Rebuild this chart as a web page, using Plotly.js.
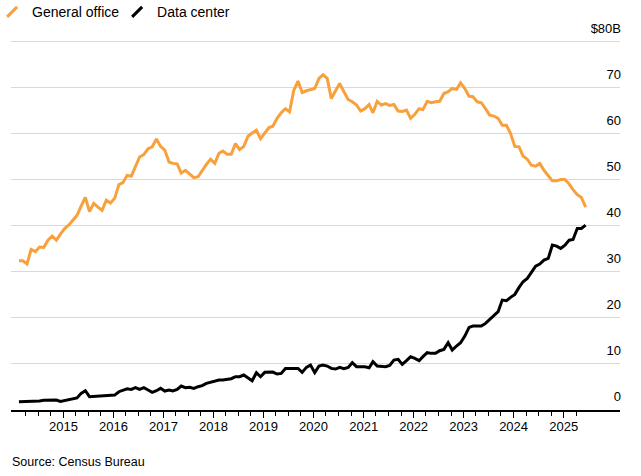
<!DOCTYPE html>
<html>
<head>
<meta charset="utf-8">
<script src="https://cdn.plot.ly/plotly-3.0.1.min.js"></script>
<style>
  html, body { margin: 0; padding: 0; background: #fff; }
  #chart { width: 641px; height: 476px; }
</style>
</head>
<body>
<div id="chart"></div>
<script>
// Monthly series, Feb 2014 – Jun 2025 ($B, seasonally adjusted annual rate)
var startYear = 2014, startMonth = 2;
var generalOffice = [
  32.3,32.3,31.6,34.8,34.3,35.3,35.2,36.8,37.7,36.8,38.1,39.3,40.1,41.0,42.2,44.2,46.1,43.0,44.8,44.0,
  43.3,45.5,44.9,45.9,48.9,49.3,50.9,50.7,52.7,54.9,55.4,56.7,57.1,58.8,57.2,56.4,53.8,53.5,53.4,51.4,
  52.0,51.3,50.4,50.6,52.0,53.3,54.4,53.5,55.7,
  56.2,55.5,55.5,57.8,56.5,57.2,59.4,60.1,60.7,58.9,60.0,61.3,61.6,63.3,64.5,65.4,64.7,69.4,71.4,68.9,
  69.3,69.6,69.8,72.0,72.8,72.0,67.6,69.3,70.9,69.1,67.4,66.9,66.2,64.9,65.4,66.3,64.5,67.0,66.2,66.5,
  66.1,66.3,64.9,64.8,65.1,63.3,64.2,
  65.4,65.2,67.0,66.7,66.9,67.0,68.7,69.1,69.8,69.6,71.0,69.8,68.1,68.0,66.9,66.7,65.4,64.0,63.8,63.3,
  61.8,61.8,60.0,57.2,57.1,55.1,54.4,53.1,52.9,53.5,52.0,50.9,49.7,49.7,50.0,50.0,49.0,47.8,46.7,46.1,
  44.0
];
var dataCenter = [
  1.66,1.66,1.80,1.80,1.73,1.80,1.95,1.95,1.95,2.02,1.73,1.88,2.02,2.17,2.46,3.47,4.05,2.75,2.82,2.82,
  2.82,3.03,3.10,3.10,3.83,4.20,4.48,4.34,4.70,4.34,4.70,4.20,3.69,4.05,4.56,3.98,4.20,3.98,4.34,5.07,
  4.70,4.78,4.56,4.92,5.14,5.65,5.86,6.22,6.37,
  6.37,6.59,6.66,7.09,7.09,7.46,6.88,6.22,7.97,7.09,8.04,8.11,8.11,7.67,7.82,8.90,8.90,8.90,8.90,8.04,
  9.12,9.63,7.97,9.41,9.63,9.41,8.90,8.76,9.12,8.83,9.12,10.14,9.27,9.27,9.27,9.05,10.36,9.41,9.27,9.27,
  9.56,10.72,10.87,9.78,10.58,11.45,11.09,
  10.58,11.45,12.32,12.17,12.17,12.75,13.04,14.49,12.89,13.77,14.49,15.93,17.82,18.11,18.11,18.11,18.69,19.56,20.28,21.23,
  23.76,23.62,24.35,25.00,26.52,27.75,28.47,29.92,31.15,31.59,32.46,32.82,35.72,35.50,35.00,35.72,36.80,36.95,39.34,39.34,
  40.07
];
var seriesNames = ['General office', 'Data center'];
var yearLabels = ['2015','2016','2017','2018','2019','2020','2021','2022','2023','2024','2025'];
var yTickVals = [0,10,20,30,40,50,60,70,80];
var yTickText = ['0','10','20','30','40','50','60','70','$80B'];
var sourceText = 'Source: Census Bureau';

function pad(n){ return (n < 10 ? '0' : '') + n; }
var months = [];
for (var i = 0; i < generalOffice.length; i++) {
  var m0 = startMonth - 1 + i;
  var y = startYear + Math.floor(m0 / 12);
  var m = (m0 % 12) + 1;
  months.push(y + '-' + pad(m) + '-10');
}
var yearTicks = yearLabels.map(function(y){ return y + '-01-01'; });
var quarterTicks = [];
for (var yy = 2014; yy <= 2025; yy++) {
  [4,7,10].forEach(function(q){
    var d = yy + '-' + pad(q) + '-01';
    if (d <= months[months.length-1]) quarterTicks.push(d);
  });
}

var orange = '#F8A13C';
var black = '#000000';

var traces = [
  { x: months, y: generalOffice, type: 'scatter', mode: 'lines', name: seriesNames[0],
    line: { color: orange, width: 3 }, showlegend: false, hoverinfo: 'skip' },
  { x: months, y: dataCenter, type: 'scatter', mode: 'lines', name: seriesNames[1],
    line: { color: black, width: 3 }, showlegend: false, hoverinfo: 'skip' },
  { x: [null], y: [null], type: 'scatter', mode: 'markers', name: seriesNames[0],
    marker: { symbol: 'line-ne', size: 10, color: orange, line: { color: orange, width: 3 } } },
  { x: [null], y: [null], type: 'scatter', mode: 'markers', name: seriesNames[1],
    marker: { symbol: 'line-ne', size: 10, color: black, line: { color: black, width: 3 } } }
];

// pixel scale: 4.6 px per $1B, zero line at y=409.3
var pxPerUnit = 4.6, zeroPx = 409.3;
var yMin = -0.15, yMax = 86;
var plotBottom = zeroPx - yMin * pxPerUnit;
var plotTop = zeroPx - yMax * pxPerUnit;
var layout = {
  width: 641, height: 476,
  margin: { l: 11, r: 21, t: plotTop, b: 476 - plotBottom, autoexpand: false },
  paper_bgcolor: '#fff', plot_bgcolor: '#fff',
  font: { family: 'Liberation Sans, Arial, sans-serif', color: '#000', size: 13 },
  showlegend: true,
  legend: { orientation: 'h', x: -0.031, xanchor: 'left',
            y: (plotBottom - 12) / (plotBottom - plotTop), yanchor: 'middle',
            font: { size: 14, color: '#000' }, bgcolor: 'rgba(0,0,0,0)', itemwidth: 30,
            entrywidth: 80, traceorder: 'normal' },
  xaxis: {
    type: 'date',
    range: ['2013-12-14', '2026-02-16'],
    tickmode: 'array', tickvals: yearTicks, ticktext: yearLabels,
    ticks: 'outside', ticklen: 6, tickwidth: 1, tickcolor: '#000',
    ticklabelstandoff: -2,
    minor: { tickmode: 'array', tickvals: quarterTicks, ticks: 'outside', ticklen: 4, tickwidth: 1, tickcolor: '#000', showgrid: false },
    showgrid: false, zeroline: false,
    showline: true, linecolor: '#000', linewidth: 1.5,
    tickfont: { size: 13, color: '#000' },
    fixedrange: true
  },
  yaxis: {
    range: [yMin, yMax],
    side: 'right',
    tickmode: 'array', tickvals: yTickVals, ticktext: yTickText,
    ticklabelposition: 'inside top',
    ticklabelshift: -4,
    ticklabelstandoff: -4,
    ticks: '',
    showgrid: true, gridcolor: '#d9d9d9', gridwidth: 1.3,
    zeroline: false, showline: false,
    tickfont: { size: 13, color: '#000' },
    fixedrange: true
  },
  annotations: [
    { text: sourceText, xref: 'paper', yref: 'paper', x: -0.002, y: (plotBottom - 462) / (plotBottom - plotTop),
      xanchor: 'left', yanchor: 'middle', showarrow: false,
      font: { size: 12.5, color: '#000' } }
  ]
};

Plotly.newPlot('chart', traces, layout, { displayModeBar: false, staticPlot: true });
</script>
</body>
</html>
